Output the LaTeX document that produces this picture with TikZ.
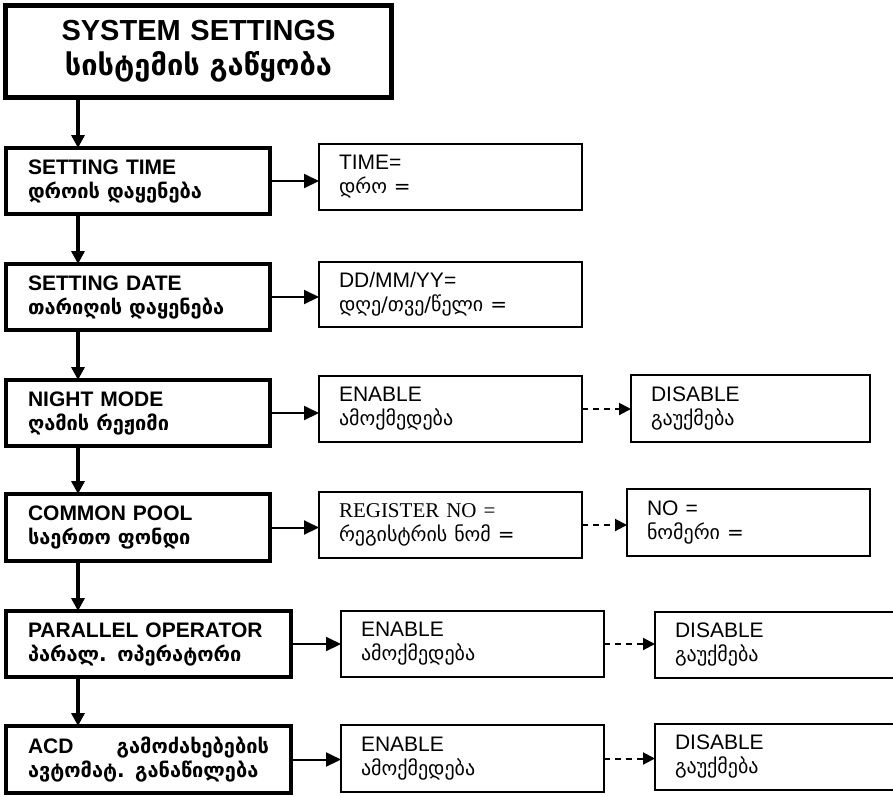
\documentclass[tikz,border=0pt]{standalone}
\usepackage{fontspec}
\setmainfont{Liberation Sans}
\newfontfamily\geo{DejaVu Sans}
\newfontfamily\tms{Liberation Serif}
\usetikzlibrary{arrows.meta}
\newcommand{\kat}[1]{{\geo\fontsize{20}{24}\selectfont #1}}
\newcommand{\kav}[1]{{\geo\fontsize{20}{24}\selectfont #1}}

\begin{document}
\begin{tikzpicture}[x=1pt,y=-1pt,
  every node/.style = {shape=rectangle, draw, anchor=north west,
    outer sep=0pt, align=left},
  headbox/.style = {line width=5pt, align=center, text width=350pt,
    inner xsep=18pt, minimum height=92pt,
    font=\fontsize{29}{31}\selectfont\bfseries},
  menubox/.style = {line width=4pt, text width=220pt, inner xsep=22pt,
    minimum height=66pt, font=\fontsize{21}{24}\selectfont\bfseries},
  valbox/.style = {line width=1.6pt, text width=223pt, inner xsep=20pt,
    minimum height=66pt, font=\fontsize{21}{24}\selectfont},
  stepdown/.style = {line width=4pt, -{Triangle[length=13pt,width=13pt]}},
  toval/.style = {line width=2pt, -{Triangle[length=15pt,width=14pt]}},
  toalt/.style = {line width=2pt, dash pattern=on 6pt off 5pt,
    -{Triangle[length=12pt,width=12pt]}}]
  \useasboundingbox (0,0) rectangle (893,796);
  \coordinate (spine) at (78,0);

  \node[headbox] (title) at (5.5,5.5)
    {SYSTEM SETTINGS\\[4pt]{\geo\fontsize{29}{31}\selectfont სისტემის გაწყობა}};

  \node[menubox] (time) at (6,148) {SETTING TIME\\\kat{დროის დაყენება}};
  \node[menubox] (date) at (6,264) {SETTING DATE\\\kat{თარიღის დაყენება}};
  \node[menubox] (night) at (6,380) {NIGHT MODE\\\kat{ღამის რეჟიმი}};
  \node[menubox, minimum height=67pt] (pool) at (6,494)
    {COMMON POOL\\\kat{საერთო ფონდი}};
  \node[menubox, text width=241pt] (parop) at (6,611)
    {PARALLEL OPERATOR\\\kat{პარალ. ოპერატორი}};
  \node[menubox, text width=241pt, minimum height=67pt] (acd) at (6,726)
    {\makebox[\hsize][l]{ACD\hfill\kat{გამოძახებების}}\\\kat{ავტომატ. განაწილება}};

  \node[valbox] (timeval) at (319,144) {TIME=\\\kav{დრო =}};
  \node[valbox, minimum height=65pt] (dateval) at (319,262)
    {DD/MM/YY=\\\kav{დღე/თვე/წელი =}};
  \node[valbox] (nighton) at (319,376) {ENABLE\\\kav{ამოქმედება}};
  \node[valbox, text width=199pt, minimum height=67pt] (nightoff) at (631,375)
    {DISABLE\\\kav{გაუქმება}};
  \node[valbox] (poolreg) at (319,492)
    {{\tms REGISTER NO =}\\\kav{რეგისტრის ნომ =}};
  \node[valbox, text width=203pt, minimum height=67pt] (poolno) at (627,489)
    {NO =\\\kav{ნომერი =}};
  \node[valbox] (paropon) at (341,611) {ENABLE\\\kav{ამოქმედება}};
  \node[valbox, text width=210pt] (paropoff) at (655,612)
    {DISABLE\\\kav{გაუქმება}};
  \node[valbox, minimum height=67pt] (acdon) at (341,725)
    {ENABLE\\\kav{ამოქმედება}};
  \node[valbox, text width=210pt, minimum height=66pt] (acdoff) at (655,724)
    {DISABLE\\\kav{გაუქმება}};

  % main column
  \draw[stepdown] (title.south -| spine) -- (time.north -| spine);
  \draw[stepdown] (time.south -| spine) -- (date.north -| spine);
  \draw[stepdown] (date.south -| spine) -- (night.north -| spine);
  \draw[stepdown] (night.south -| spine) -- (pool.north -| spine);
  \draw[stepdown] (pool.south -| spine) -- (parop.north -| spine);
  \draw[stepdown] (parop.south -| spine) -- (acd.north -| spine);

  % values
  \draw[toval] (time.east) -- (time.east -| timeval.west);
  \draw[toval] (date.east) -- (date.east -| dateval.west);
  \draw[toval] (night.east) -- (night.east -| nighton.west);
  \draw[toval] (pool.east) -- (pool.east -| poolreg.west);
  \draw[toval] (parop.east) -- (parop.east -| paropon.west);
  \draw[toval] (acd.east) -- (acd.east -| acdon.west);

  \draw[toalt] (nighton.east) -- (nighton.east -| nightoff.west);
  \draw[toalt] (poolreg.east) -- (poolreg.east -| poolno.west);
  \draw[toalt] (paropon.east) -- (paropon.east -| paropoff.west);
  \draw[toalt] (acdon.east) -- (acdon.east -| acdoff.west);
\end{tikzpicture}
\end{document}
